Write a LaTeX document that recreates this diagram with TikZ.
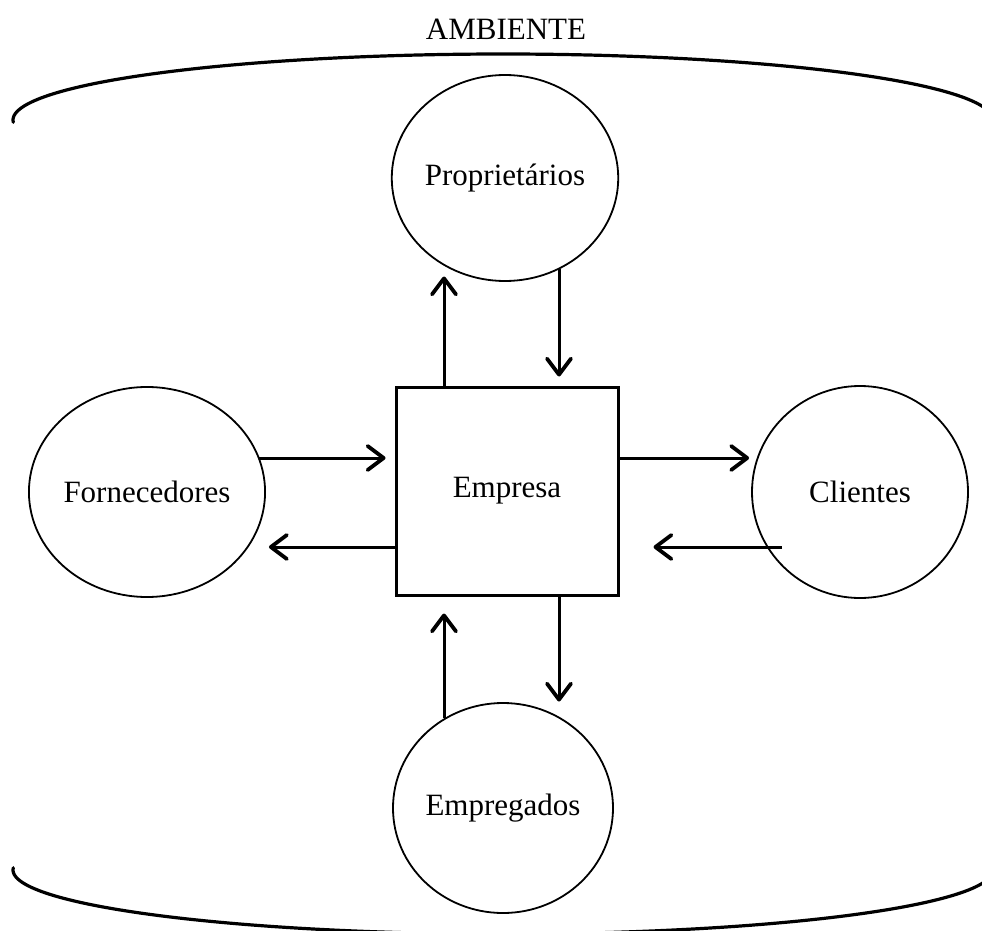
\documentclass[tikz,border=0pt]{standalone}
\usepackage{fontspec}
\setmainfont{Liberation Serif}
\usetikzlibrary{shapes.geometric,arrows.meta,calc}

\tikzset{
  txt/.style={font=\fontsize{31}{36}\selectfont, inner sep=0pt},
  actor/.style={ellipse, draw, line width=1.8pt, inner sep=0pt},
  firm/.style={rectangle, draw, line width=3pt, inner sep=0pt,
               minimum width=222pt, minimum height=208pt},
  arr/.style={line width=3pt,
              -{Straight Barb[length=16pt,width=24pt,line width=3.8pt,round]}},
  border/.style={line width=3.2pt, line cap=round}
}

\begin{document}
\begin{tikzpicture}[x=1pt, y=-1pt]
  \useasboundingbox (0,0) rectangle (982,931);
  \clip (0,0) rectangle (982,931);

  % environment boundary: upper and lower parts of a wide ellipse
  \draw[border] plot[domain=182:5, samples=120, smooth]
        ({503+490*cos(\x)}, {120-66*sin(\x)});
  \draw[border] plot[domain=178:355, samples=120, smooth]
        ({503+490*cos(\x)}, {870-64*sin(\x)});
  \node[txt] (amb) at (506,29) {AMBIENTE};

  % the company and its stakeholders
  \node[firm, txt] (box) at (507,491) {Empresa};
  \node[actor, txt, minimum width=214pt, minimum height=206pt] (prop) at (505,178) {Propriet\'arios};
  \node[actor, txt, minimum width=226pt, minimum height=210pt] (forn) at (147,492) {Fornecedores};
  \node[actor, txt, minimum width=216pt, minimum height=212pt] (cli) at (860,492) {Clientes};
  \node[actor, txt, minimum width=220pt, minimum height=210pt] (emp) at (503,808) {Empregados};

  % guide lines for the arrow positions
  \coordinate (xl) at (444,0);
  \coordinate (xr) at (559,0);
  \coordinate (yu) at (0,458);
  \coordinate (yd) at (0,547);

  % owners
  \draw[arr] (box.north -| xl) -- ($(box.north -| xl)+(0,-109)$);
  \draw[arr] (prop.-59 -| xr) -- ($(box.north -| xr)+(0,-9)$);
  % suppliers
  \draw[arr] (forn.18 |- yu) -- ($(box.west |- yu)+(-9,0)$);
  \draw[arr] (box.west |- yd) -- ($(forn.east |- yd)+(3,0)$);
  % clients
  \draw[arr] (box.east |- yu) -- ($(cli.west |- yu)+(-2,0)$);
  \draw[arr] ($(cli.west |- yd)+(31,0)$) -- ($(box.east |- yd)+(34,0)$);
  % employees
  \draw[arr] (box.south -| xr) -- ($(box.south -| xr)+(0,105)$);
  \draw[arr] (emp.123 -| xl) -- ($(box.south -| xl)+(0,17)$);
\end{tikzpicture}
\end{document}
